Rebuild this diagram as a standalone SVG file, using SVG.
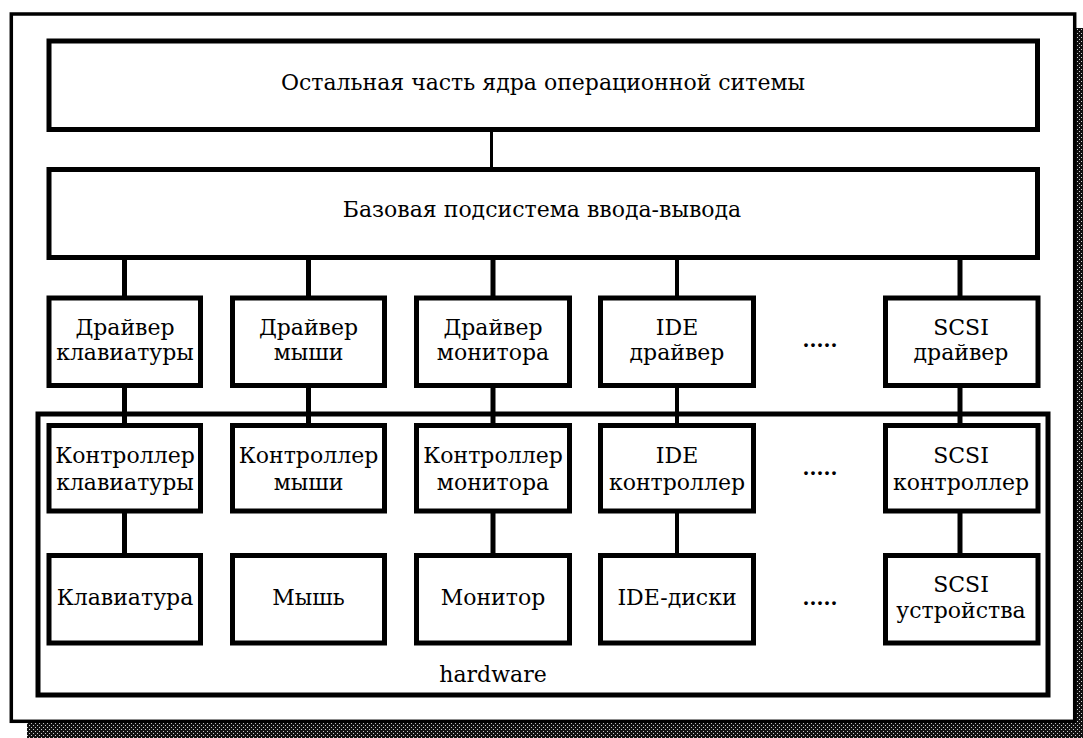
<svg xmlns="http://www.w3.org/2000/svg" width="1083" height="738" viewBox="0 0 1083 738">
<style>
.box{fill:#fff;stroke:#000;stroke-width:5}
.frame{fill:none;stroke:#000;stroke-width:5}
.conn{stroke:#000;stroke-width:5;fill:none}
.thin{stroke-width:4}
.hair{stroke-width:3}
text{font-family:"DejaVu Serif","Liberation Serif",serif;font-size:22px;fill:#000;text-anchor:middle}
.dots{font-weight:bold;font-size:20px}
</style>
<defs>
<pattern id="speck" width="4" height="4" patternUnits="userSpaceOnUse">
<rect width="4" height="4" fill="#111"/>
<rect x="1" y="1" width="1" height="1" fill="#ccc"/>
<rect x="3" y="3" width="1" height="1" fill="#ccc"/>
</pattern>
</defs>
<rect width="1083" height="738" fill="#fff"/>
<rect id="shadow" x="27" y="28" width="1056" height="710" fill="url(#speck)"/>
<rect id="outer" x="11.3" y="14" width="1063.4" height="707.3" fill="#fff" stroke="#000" stroke-width="3.5"/>

<g id="connectors">
<line class="conn hair" x1="491.5" y1="129" x2="491.5" y2="170"/>
<line class="conn" x1="124.5" y1="257" x2="124.5" y2="298"/>
<line class="conn" x1="308.5" y1="257" x2="308.5" y2="298"/>
<line class="conn" x1="493" y1="257" x2="493" y2="298"/>
<line class="conn thin" x1="677" y1="257" x2="677" y2="298"/>
<line class="conn" x1="960" y1="257" x2="960" y2="298"/>
<line class="conn" x1="124.5" y1="385" x2="124.5" y2="426"/>
<line class="conn" x1="308.5" y1="385" x2="308.5" y2="426"/>
<line class="conn" x1="493" y1="385" x2="493" y2="426"/>
<line class="conn thin" x1="677" y1="385" x2="677" y2="426"/>
<line class="conn" x1="960" y1="385" x2="960" y2="426"/>
<line class="conn" x1="124.5" y1="511" x2="124.5" y2="556"/>
<line class="conn" x1="493" y1="511" x2="493" y2="556"/>
<line class="conn thin" x1="677" y1="511" x2="677" y2="556"/>
<line class="conn" x1="960" y1="511" x2="960" y2="556"/>
</g>

<g id="hardware">
<rect class="frame" x="38" y="414" width="1010" height="281"/>
<text x="493" y="682">hardware</text>
</g>

<g id="kernel">
<rect class="box" x="49" y="41" width="988.5" height="88.5"/>
<text x="543" y="90">Остальная часть ядра операционной ситемы</text>
</g>
<g id="io">
<rect class="box" x="49" y="169.5" width="988.5" height="88"/>
<text x="542" y="217">Базовая подсистема ввода-вывода</text>
</g>

<g id="drv-kbd">
<rect class="box" x="49" y="298" width="151.5" height="87.5"/>
<text x="125" y="335">Драйвер</text><text x="125" y="360">клавиатуры</text>
</g>
<g id="drv-mouse">
<rect class="box" x="232.5" y="298" width="152" height="87.5"/>
<text x="308.5" y="335">Драйвер</text><text x="308.5" y="360">мыши</text>
</g>
<g id="drv-mon">
<rect class="box" x="416.5" y="298" width="153" height="87.5"/>
<text x="493" y="335">Драйвер</text><text x="493" y="360">монитора</text>
</g>
<g id="drv-ide">
<rect class="box" x="600.5" y="298" width="153" height="87.5"/>
<text x="677" y="335">IDE</text><text x="677" y="360">драйвер</text>
</g>
<text class="dots" x="820" y="347">.....</text>
<g id="drv-scsi">
<rect class="box" x="885.5" y="298" width="152.5" height="87.5"/>
<text x="961" y="335">SCSI</text><text x="961" y="360">драйвер</text>
</g>

<g id="ctl-kbd">
<rect class="box" x="49" y="425.5" width="151.5" height="85.5"/>
<text x="125" y="463">Контроллер</text><text x="125" y="490">клавиатуры</text>
</g>
<g id="ctl-mouse">
<rect class="box" x="232.5" y="425.5" width="152" height="85.5"/>
<text x="308.5" y="463">Контроллер</text><text x="308.5" y="490">мыши</text>
</g>
<g id="ctl-mon">
<rect class="box" x="416.5" y="425.5" width="153" height="85.5"/>
<text x="493" y="463">Контроллер</text><text x="493" y="490">монитора</text>
</g>
<g id="ctl-ide">
<rect class="box" x="600.5" y="425.5" width="153" height="85.5"/>
<text x="677" y="463">IDE</text><text x="677" y="490">контроллер</text>
</g>
<text class="dots" x="820" y="475">.....</text>
<g id="ctl-scsi">
<rect class="box" x="885.5" y="425.5" width="152.5" height="85.5"/>
<text x="961" y="463">SCSI</text><text x="961" y="490">контроллер</text>
</g>

<g id="dev-kbd">
<rect class="box" x="49" y="555.5" width="151.5" height="87.5"/>
<text x="125" y="605">Клавиатура</text>
</g>
<g id="dev-mouse">
<rect class="box" x="232.5" y="555.5" width="152" height="87.5"/>
<text x="308.5" y="605">Мышь</text>
</g>
<g id="dev-mon">
<rect class="box" x="416.5" y="555.5" width="153" height="87.5"/>
<text x="493" y="605">Монитор</text>
</g>
<g id="dev-ide">
<rect class="box" x="600.5" y="555.5" width="153" height="87.5"/>
<text x="677" y="605">IDE-диски</text>
</g>
<text class="dots" x="820" y="605">.....</text>
<g id="dev-scsi">
<rect class="box" x="885.5" y="555.5" width="152.5" height="87.5"/>
<text x="961" y="592">SCSI</text><text x="961" y="618">устройства</text>
</g>
</svg>
